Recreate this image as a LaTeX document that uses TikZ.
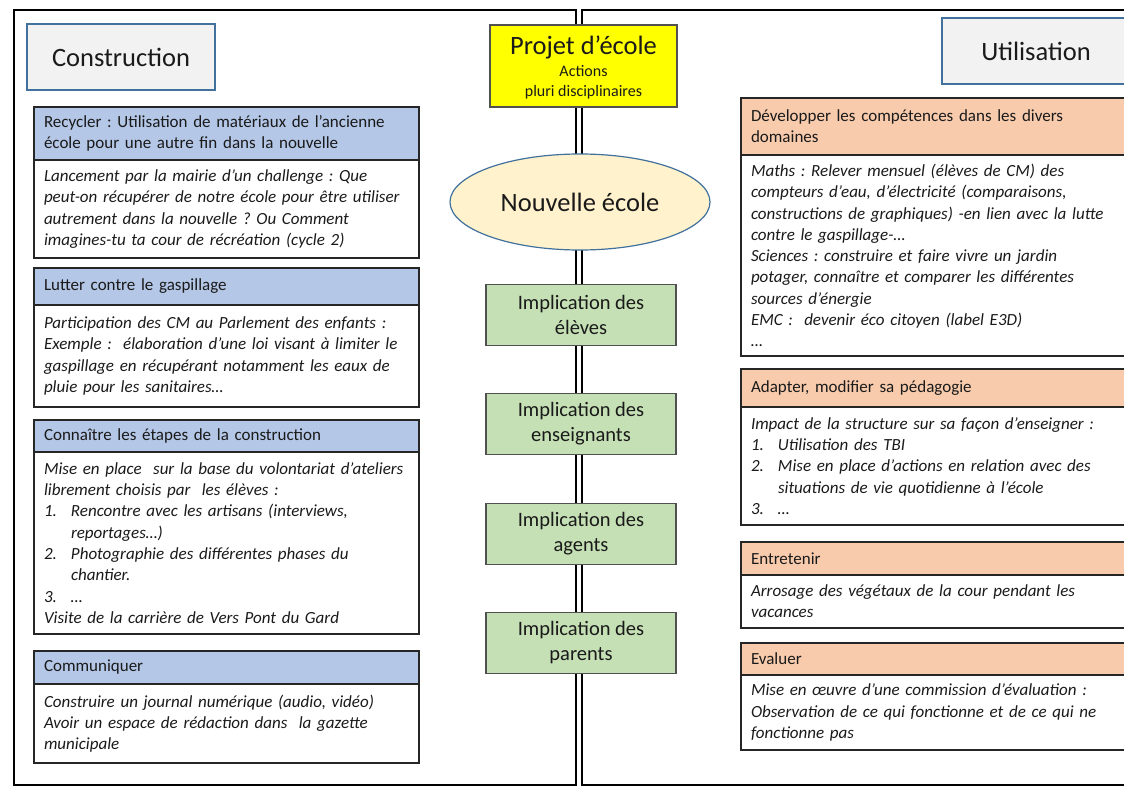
\documentclass[tikz,border=0pt]{standalone}
\usepackage{fontspec}
\setmainfont{Carlito}
\usetikzlibrary{shapes.geometric}
\frenchspacing
\definecolor{blueH}{HTML}{B4C7E7}
\definecolor{orangeH}{HTML}{F8CBAD}
\definecolor{greenB}{HTML}{C5E0B4}
\definecolor{yellowB}{HTML}{FFFF00}
\definecolor{creamB}{HTML}{FFF2CC}
\definecolor{grayB}{HTML}{F2F2F2}
\definecolor{blueLine}{HTML}{41719C}
\definecolor{boxLine}{HTML}{262626}
\definecolor{txt}{HTML}{1A1A1A}
\begin{document}
\begin{tikzpicture}[x=1pt,y=-1pt,
  panel/.style={draw=black, line width=1.4pt},
  titlebox/.style={draw=blueLine, line width=1.4pt, fill=grayB, minimum width=188pt, minimum height=66pt, outer sep=0pt, text=txt, font=\fontsize{26.5}{30}\selectfont},
  hdr/.style={draw=boxLine, line width=1.8pt, anchor=north west, align=left, inner xsep=10pt, inner ysep=0pt, outer sep=0pt, text=txt, font=\fontsize{17}{21}\selectfont\frenchspacing},
  bdy/.style={hdr, fill=white, font=\fontsize{17}{21.3}\selectfont\itshape\frenchspacing},
  hdrL/.style={hdr, fill=blueH, text width=365pt},
  bdyL/.style={bdy, text width=365pt},
  hdrR/.style={hdr, fill=orangeH, text width=380pt},
  bdyR/.style={bdy, text width=380pt},
  impl/.style={draw=boxLine!80, line width=1.2pt, fill=greenB, minimum width=190pt, minimum height=61pt, align=center, outer sep=0pt, text=txt, font=\fontsize{20.5}{25}\selectfont}
]
\useasboundingbox (0,0) rectangle (1124,787);
\clip (0,0) rectangle (1124,787);
\fill[white] (0,0) rectangle (1124,787);

% panels
\draw[panel] (14,10) rectangle (576,785);
\draw[panel] (582,10) rectangle (1140,785);

% titles
\node[titlebox] (constr) at (121,57) {Construction};
\node[titlebox] (util) at (1036,51) {Utilisation};

% central column
\node[draw=boxLine!80, line width=1.2pt, fill=yellowB, minimum width=187pt, minimum height=82pt, outer sep=0pt] (projet) at (583.5,66) {};
\node[text=txt, font=\fontsize{26.5}{30}\selectfont, inner sep=0pt] (projetT) at (583.5,47) {Projet d’école};
\node[text=txt, font=\fontsize{16}{20}\selectfont, align=center, inner sep=0pt] (projetS) at (583.5,82) {Actions\\pluri disciplinaires};
\node[ellipse, draw=blueLine, line width=1.2pt, fill=creamB, minimum width=260pt, minimum height=96pt, inner sep=0pt, text=txt, font=\fontsize{26.5}{30}\selectfont] (ecole) at (580,202) {Nouvelle école};
\node[impl] (eleves) at (581,315) {Implication des\\élèves};
\node[impl] (ens) at (581,424) {Implication des\\enseignants};
\node[impl] (agents) at (581,534) {Implication des\\agents};
\node[impl] (parents) at (581,643) {Implication des\\parents};

% left boxes
\node[hdrL, minimum height=53pt] (l1h) at (34,107) {Recycler : Utilisation de matériaux de l’ancienne\\école pour une autre fin dans la nouvelle};
\node[bdyL, minimum height=98pt] (l1b) at (34,160) {Lancement par la mairie d’un challenge : Que\\peut-on récupérer de notre école pour être utiliser\\autrement dans la nouvelle ? Ou Comment\\imagines-tu ta cour de récréation (cycle 2)};

\node[hdrL, minimum height=37pt] (l2h) at (34,268) {Lutter contre le gaspillage};
\node[bdyL, minimum height=102pt] (l2b) at (34,305) {Participation des CM au Parlement des enfants :\\Exemple :\ \ élaboration d’une loi visant à limiter le\\gaspillage en récupérant notamment les eaux de\\pluie pour les sanitaires…};

\node[hdrL, minimum height=32pt] (l3h) at (34,420) {Connaître les étapes de la construction};
\node[bdyL, minimum height=182pt] (l3b) at (34,452) {Mise en place\ \ sur la base du volontariat d’ateliers\\librement choisis par\ \ les élèves :\\\makebox[27pt][l]{1.}Rencontre avec les artisans (interviews,\\\hspace*{27pt}reportages…)\\\makebox[27pt][l]{2.}Photographie des différentes phases du\\\hspace*{27pt}chantier.\\\makebox[27pt][l]{3.}…\\Visite de la carrière de Vers Pont du Gard};

\node[hdrL, minimum height=33pt] (l4h) at (34,651) {Communiquer};
\node[bdyL, minimum height=79pt] (l4b) at (34,684) {Construire un journal numérique (audio, vidéo)\\Avoir un espace de rédaction dans\ \ la gazette\\municipale};

% right boxes
\node[hdrR, minimum height=57pt] (r1h) at (741,98) {Développer les compétences dans les divers\\domaines};
\node[bdyR, minimum height=201pt] (r1b) at (741,155) {Maths : Relever mensuel (élèves de CM) des\\compteurs d’eau, d’électricité (comparaisons,\\constructions de graphiques) -en lien avec la lutte\\contre le gaspillage-…\\Sciences : construire et faire vivre un jardin\\potager, connaître et comparer les différentes\\sources d’énergie\\EMC :\ \ devenir éco citoyen (label E3D)\\…};

\node[hdrR, minimum height=38pt] (r2h) at (741,369) {Adapter, modifier sa pédagogie};
\node[bdyR, minimum height=118pt] (r2b) at (741,407) {Impact de la structure sur sa façon d’enseigner :\\\makebox[27pt][l]{1.}Utilisation des TBI\\\makebox[27pt][l]{2.}Mise en place d’actions en relation avec des\\\hspace*{27pt}situations de vie quotidienne à l’école\\\makebox[27pt][l]{3.}…};

\node[hdrR, minimum height=33pt] (r3h) at (741,542) {Entretenir};
\node[bdyR, minimum height=53pt] (r3b) at (741,575) {Arrosage des végétaux de la cour pendant les\\vacances};

\node[hdrR, minimum height=32pt] (r4h) at (741,643) {Evaluer};
\node[bdyR, minimum height=75pt] (r4b) at (741,675) {Mise en œuvre d’une commission d’évaluation :\\Observation de ce qui fonctionne et de ce qui ne\\fonctionne pas};
\end{tikzpicture}
\end{document}
